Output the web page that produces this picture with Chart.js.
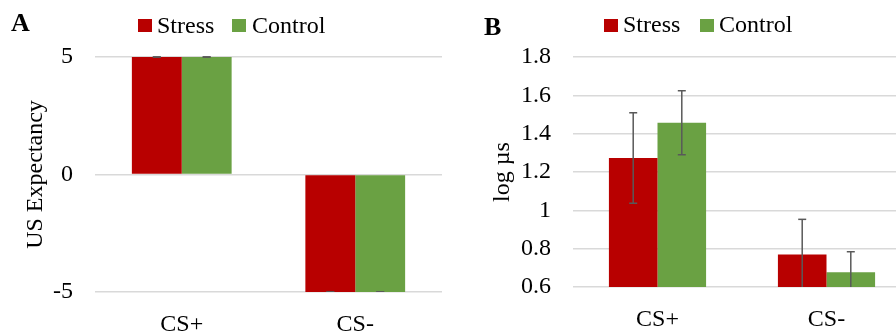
<!DOCTYPE html>
<html>
<head>
<meta charset="utf-8">
<script src="https://cdn.jsdelivr.net/npm/chart.js@4/dist/chart.umd.min.js"></script>
<style>
  html, body { margin: 0; padding: 0; background: #fff; }
  body { width: 896px; height: 335px; overflow: hidden; position: relative;
         font-family: "Liberation Serif", "Times New Roman", serif; color: #000; }
  .wrap { position: absolute; top: 0; }
  .panel-label { position: absolute; font-size: 26px; font-weight: bold; line-height: 24px; }
  .key { position: absolute; width: 14px; height: 13px; }
  .key-text { position: absolute; font-size: 24px; line-height: 24px; white-space: nowrap; }
</style>
</head>
<body>
<div class="wrap" style="left:0;width:450px;height:335px;"><canvas id="chartA" width="450" height="335"></canvas></div>
<div class="wrap" style="left:450px;width:461px;height:335px;"><canvas id="chartB" width="461" height="335"></canvas></div>

<div class="panel-label" style="left:11px;top:11px;">A</div>
<div class="panel-label" style="left:484px;top:15px;">B</div>

<div class="key" style="left:138px;top:19px;background:#B80000;"></div>
<div class="key-text" style="left:157px;top:13px;">Stress</div>
<div class="key" style="left:232px;top:19px;background:#6AA143;"></div>
<div class="key-text" style="left:252px;top:13px;">Control</div>

<div class="key" style="left:604px;top:19px;background:#B80000;"></div>
<div class="key-text" style="left:623px;top:12px;">Stress</div>
<div class="key" style="left:700px;top:19px;background:#6AA143;"></div>
<div class="key-text" style="left:719px;top:12px;">Control</div>

<script>
// Conditions on the x axis
const categories = ['CS+', 'CS-'];

// Panel A: US expectancy ratings
const expectancyStress = [5, -5];
const expectancyControl = [5, -5];
const expectancyStressErr = [0, 0];
const expectancyControlErr = [0, 0];
const expectancyTicks = ['-5', '0', '5'];

// Panel B: skin conductance (log µS)
const scrStress = [1.273, 0.769];
const scrControl = [1.457, 0.677];
const scrStressErr = [0.236, 0.184];
const scrControlErr = [0.167, 0.107];
const scrTicks = ['0.6', '0.8', '1', '1.2', '1.4', '1.6', '1.8'];

const RED = '#B80000';
const GREEN = '#6AA143';
const GRID = '#D9D9D9';
const FONT = { family: '"Liberation Serif", "Times New Roman", serif', size: 24 };

// Draws vertical error bars with caps, clipped to the plot area
const errorBars = {
  id: 'errorBars',
  afterDatasetsDraw(chart) {
    const { ctx, chartArea } = chart;
    const yScale = chart.scales.y;
    ctx.save();
    ctx.beginPath();
    ctx.rect(chartArea.left, chartArea.top - 2, chartArea.right - chartArea.left, chartArea.bottom - chartArea.top + 2);
    ctx.clip();
    ctx.strokeStyle = '#595959';
    ctx.lineWidth = 1.5;
    chart.data.datasets.forEach((ds, i) => {
      const meta = chart.getDatasetMeta(i);
      meta.data.forEach((bar, j) => {
        const v = ds.data[j];
        const e = ds.errors[j];
        const x = bar.x;
        const yHi = yScale.getPixelForValue(v + e);
        const yLo = yScale.getPixelForValue(v - e);
        ctx.beginPath();
        ctx.moveTo(x, yHi);
        ctx.lineTo(x, yLo);
        ctx.stroke();
        [yHi, yLo].forEach(y => {
          if (y >= chartArea.top - 1 && y <= chartArea.bottom + 1) {
            ctx.beginPath();
            ctx.moveTo(x - 4, y);
            ctx.lineTo(x + 4, y);
            ctx.stroke();
          }
        });
      });
    });
    ctx.restore();
  }
};

function makeChart(id, cfg) {
  return new Chart(document.getElementById(id), {
    type: 'bar',
    data: {
      labels: categories,
      datasets: [
        { label: 'Stress', data: cfg.stress, errors: cfg.stressErr, backgroundColor: RED,
          categoryPercentage: 0.575, barPercentage: 1.0 },
        { label: 'Control', data: cfg.control, errors: cfg.controlErr, backgroundColor: GREEN,
          categoryPercentage: 0.575, barPercentage: 1.0 }
      ]
    },
    options: {
      responsive: false,
      animation: false,
      events: [],
      layout: { padding: { top: 57, bottom: 0, left: 0, right: cfg.padRight } },
      plugins: { legend: { display: false }, tooltip: { enabled: false } },
      scales: {
        x: {
          grid: { display: false },
          border: { display: false },
          ticks: { color: '#000', font: FONT, padding: 10, maxRotation: 0 },
          afterFit(s) { s.height = cfg.xHeight; }
        },
        y: {
          min: cfg.min, max: cfg.max,
          grid: { color: GRID, lineWidth: 1.5, drawTicks: false },
          border: { display: false },
          ticks: {
            stepSize: cfg.step, color: '#000', font: FONT, padding: 22,
            callback: (v) => {
              const idx = Math.round((v - cfg.min) / cfg.step);
              return cfg.tickLabels[idx];
            }
          },
          title: { display: true, text: cfg.title, color: '#000', font: FONT,
                   padding: { top: cfg.titlePad, bottom: 4 } },
          afterFit(s) { s.width = cfg.yWidth; }
        }
      }
    },
    plugins: [errorBars]
  });
}

makeChart('chartA', {
  stress: expectancyStress, control: expectancyControl,
  stressErr: expectancyStressErr, controlErr: expectancyControlErr,
  min: -5, max: 5, step: 5, tickLabels: expectancyTicks,
  title: 'US Expectancy', titlePad: 21, yWidth: 95, xHeight: 43, padRight: 8
});

makeChart('chartB', {
  stress: scrStress, control: scrControl,
  stressErr: scrStressErr, controlErr: scrControlErr,
  min: 0.6, max: 1.8, step: 0.2, tickLabels: scrTicks,
  title: 'log µs', titlePad: 38, yWidth: 123, xHeight: 48, padRight: 0
});
</script>
</body>
</html>
